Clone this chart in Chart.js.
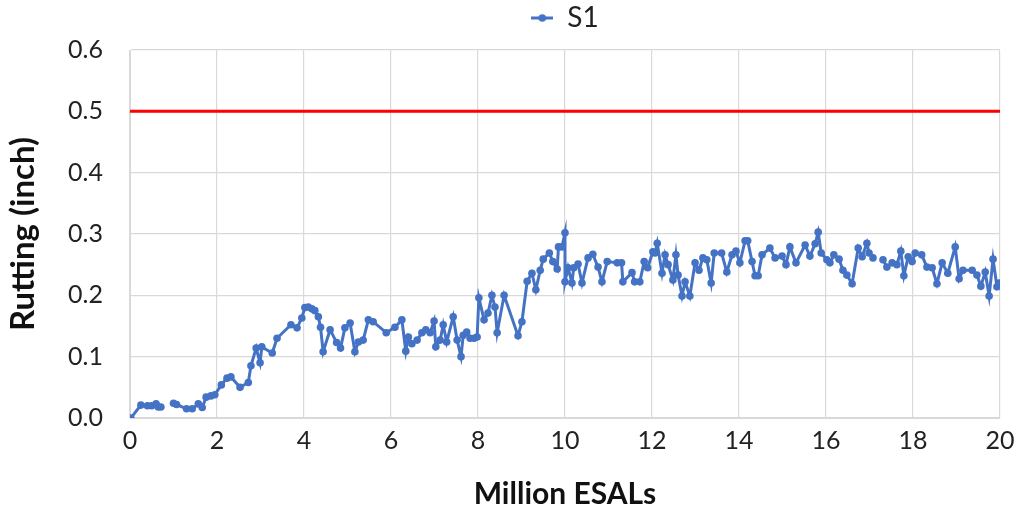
<!DOCTYPE html>
<html>
<head>
<meta charset="utf-8">
<script src="https://cdn.jsdelivr.net/npm/chart.js@4"></script>
<style>
html,body{margin:0;padding:0;background:#fff;}
#wrap{width:1017px;height:512px;}
</style>
</head>
<body>
<div id="wrap"><canvas id="c" width="1017" height="512"></canvas></div>
<script>
const seriesName = "S1";
const esals = [0.02,0.25,0.4,0.5,0.6,0.65,0.71,null,1.0,1.07,1.3,1.43,1.57,1.66,1.75,1.86,1.95,2.1,2.23,2.32,2.53,2.72,2.78,2.9,2.99,3.03,3.27,3.38,3.7,3.84,3.95,4.02,4.1,4.18,4.25,4.33,4.38,4.44,4.6,4.75,4.84,4.94,5.06,5.17,5.25,5.36,5.48,5.59,5.89,6.09,6.25,6.34,6.4,6.48,6.6,6.71,6.8,6.9,6.99,7.03,7.13,7.2,7.28,7.43,7.52,7.61,7.66,7.74,7.82,7.91,7.98,8.02,8.14,8.23,8.32,8.39,8.44,8.6,8.92,9.01,9.13,9.24,9.33,9.43,9.5,9.64,9.72,9.82,9.85,9.93,10.0,10.0,10.07,10.16,10.2,10.3,10.39,10.53,10.64,10.76,10.85,10.97,11.2,11.3,11.33,11.54,11.6,11.72,11.82,11.9,12.02,12.07,12.12,12.23,12.3,12.37,12.48,12.55,12.6,12.69,12.76,12.87,12.99,13.08,13.17,13.26,13.36,13.43,13.6,13.72,13.84,13.93,14.02,14.14,14.2,14.3,14.37,14.44,14.53,14.71,14.83,14.99,15.08,15.17,15.31,15.52,15.63,15.75,15.82,15.89,16.02,16.09,16.18,16.3,16.39,16.48,16.6,16.74,16.83,16.94,16.99,17.08,null,17.31,17.4,17.52,17.63,17.72,17.79,17.89,17.98,18.05,18.2,18.32,18.44,18.55,18.67,18.8,18.97,19.06,19.15,19.36,19.47,19.56,19.66,19.75,19.84,19.93,19.98];
const rutting = [0.0,0.021,0.02,0.02,0.023,0.018,0.018,null,0.024,0.022,0.015,0.015,0.023,0.017,0.034,0.036,0.038,0.054,0.065,0.067,0.05,0.058,0.085,0.114,0.09,0.116,0.106,0.13,0.152,0.147,0.163,0.18,0.181,0.178,0.175,0.165,0.148,0.108,0.144,0.123,0.114,0.147,0.155,0.108,0.124,0.127,0.16,0.157,0.139,0.148,0.16,0.109,0.132,0.121,0.127,0.139,0.144,0.139,0.158,0.116,0.127,0.152,0.124,0.165,0.127,0.1,0.135,0.14,0.13,0.13,0.132,0.196,0.16,0.171,0.2,0.181,0.139,0.2,0.134,0.157,0.223,0.236,0.209,0.241,0.259,0.269,0.255,0.243,0.279,0.279,0.302,0.222,0.245,0.22,0.245,0.251,0.22,0.261,0.267,0.246,0.222,0.255,0.253,0.253,0.222,0.237,0.222,0.222,0.255,0.245,0.271,0.269,0.285,0.236,0.266,0.25,0.225,0.266,0.233,0.199,0.222,0.199,0.253,0.241,0.261,0.258,0.22,0.269,0.269,0.238,0.266,0.272,0.253,0.289,0.289,0.255,0.232,0.232,0.266,0.277,0.261,0.264,0.25,0.279,0.253,0.282,0.264,0.284,0.303,0.269,0.258,0.253,0.266,0.259,0.241,0.233,0.219,0.277,0.263,0.285,0.269,0.261,null,0.258,0.246,0.253,0.25,0.272,0.232,0.263,0.255,0.269,0.266,0.246,0.245,0.219,0.253,0.236,0.279,0.227,0.241,0.241,0.233,0.215,0.238,0.199,0.259,0.214,0.22];
const limitValue = 0.5;
const xRange = [0, 20];
const xTickStep = 2;
const yRange = [0, 0.6];
const yTickStep = 0.1;
const xTitle = "Million ESALs";
const yTitle = "Rutting (inch)";

const seriesPoints = esals.map((x, i) => ({x: x, y: rutting[i]}));
const limitPoints = xRange.map(x => ({x: x, y: limitValue}));

const blue = '#4472C4';
// legend marker: short line with a dot
const mk = document.createElement('canvas');
mk.width = 22; mk.height = 10;
const mctx = mk.getContext('2d');
mctx.strokeStyle = blue; mctx.lineWidth = 3;
mctx.beginPath(); mctx.moveTo(0,5); mctx.lineTo(22,5); mctx.stroke();
mctx.fillStyle = blue; mctx.beginPath(); mctx.arc(11,5,3.8,0,Math.PI*2); mctx.fill();

const FONT = 'Lato, "Open Sans", sans-serif';

const legendSpacer = {
  id: 'legendSpacer',
  beforeInit(chart) {
    const lg = chart.legend;
    if (!lg) return;
    const origFit = lg.fit;
    lg.fit = function () { origFit.call(this); this.height += 8; };
  }
};

new Chart(document.getElementById('c'), {
  type: 'line',
  plugins: [legendSpacer],
  data: {
    datasets: [
      {
        label: seriesName,
        data: seriesPoints,
        borderColor: blue,
        backgroundColor: blue,
        borderWidth: 3,
        pointRadius: 3.8,
        pointHoverRadius: 3.8,
        pointBorderWidth: 0,
        tension: 0,
        spanGaps: false
      },
      {
        label: 'limit',
        data: limitPoints,
        borderColor: '#FF0000',
        borderWidth: 3,
        pointRadius: 0,
        tension: 0
      }
    ]
  },
  options: {
    responsive: false,
    animation: false,
    layout: {padding: {left: 0, right: 17, top: 0, bottom: 0}},
    plugins: {
      tooltip: {enabled: false},
      legend: {
        position: 'top',
        fullSize: false,
        labels: {
          font: {family: FONT, size: 28},
          color: '#222',
          padding: 4,
          usePointStyle: true,
          pointStyleWidth: 22,
          boxHeight: 10,
          generateLabels: chart => [{
            text: seriesName, fillStyle: blue, strokeStyle: blue, lineWidth: 0,
            pointStyle: mk, datasetIndex: 0, hidden: false, fontColor: '#222'
          }]
        }
      }
    },
    scales: {
      x: {
        type: 'linear',
        min: xRange[0], max: xRange[1],
        ticks: {stepSize: xTickStep, font: {family: FONT, size: 25}, color: '#222', padding: 8},
        grid: {color: '#D9D9D9', lineWidth: 1.2, drawTicks: false},
        border: {color: '#D9D9D9'},
        title: {display: true, text: xTitle, font: {family: FONT, size: 30, weight: 'bold'}, color: '#111', padding: {top: 0, bottom: 0}},
        afterFit: s => { s.height = 94; s.paddingRight = 0; s.paddingLeft = 0; }
      },
      y: {
        min: yRange[0], max: yRange[1],
        ticks: {stepSize: yTickStep, font: {family: FONT, size: 25}, color: '#222', padding: 27,
          callback: v => Number(v).toFixed(1)},
        grid: {color: '#D9D9D9', lineWidth: 1.2, drawTicks: false},
        border: {color: '#D9D9D9'},
        title: {display: true, text: yTitle, font: {family: FONT, size: 33, weight: 'bold'}, color: '#111', padding: {top: 4, bottom: 0}},
        afterFit: s => { s.width = 130; s.paddingTop = 0; s.paddingBottom = 0; }
      }
    }
  }
});
</script>
</body>
</html>
